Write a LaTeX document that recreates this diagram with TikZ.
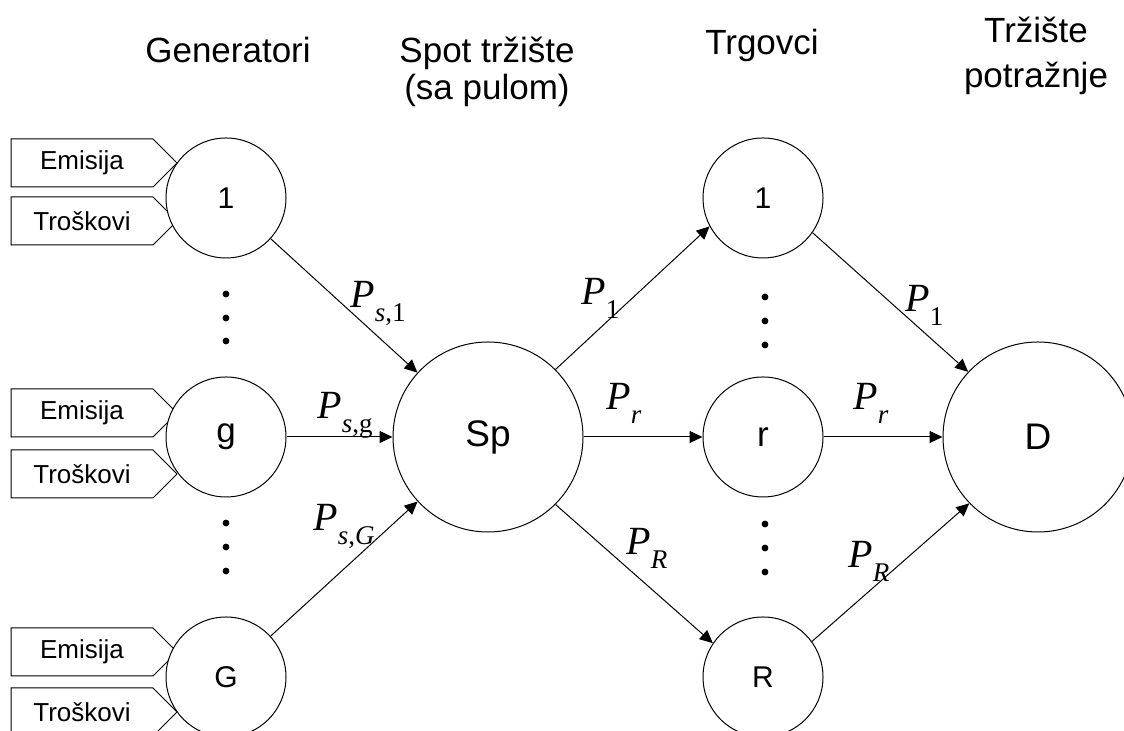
\documentclass[tikz,border=0pt]{standalone}
\usepackage{fontspec}
\setmainfont{Liberation Sans}
\newfontfamily\timesP{Liberation Serif}
\usetikzlibrary{arrows.meta, shapes.symbols}

% price label: italic P with a lowered index
\newcommand\price[1]{\textit{P}\raisebox{-7pt}{\fontsize{13.5}{13.5}\selectfont #1}}

\begin{document}
\begin{tikzpicture}[x=0.5pt, y=0.5pt,
				unit/.style={circle, draw, fill=white, line width=0.5pt, minimum size=60pt, inner sep=0pt, font=\fontsize{15}{18}\selectfont},
				small/.style={font=\fontsize{17.5}{20}\selectfont},
				pool/.style={unit, minimum size=95pt, font=\fontsize{18.5}{21}\selectfont},
				input/.style={signal, signal to=east, signal pointer angle=90, draw, fill=white, line width=0.5pt,
					minimum height=24pt, text width=71pt, inner xsep=0pt, align=center, font=\fontsize{13}{15}\selectfont},
				head/.style={font=\fontsize{17.5}{21}\selectfont, align=center, anchor=base},
				price/.style={anchor=base west, inner sep=0pt, font=\timesP\fontsize{20}{24}\selectfont},
				flow/.style={-{Triangle[length=6.5pt, width=6pt]}, line width=0.5pt},
				dot/.style={circle, fill, inner sep=0pt, minimum size=3.4pt}]
				\useasboundingbox (0,0) rectangle (1124,731);
				% headers (base = last line)
				\node[head] (hgen) at (228,668) {Generatori};
				\node[head, font=\fontsize{17.5}{18.5}\selectfont] (hspot) at (487,631) {Spot tržište\\(sa pulom)};
				\node[head] (htrg) at (762,676) {Trgovci};
				\node[head, font=\fontsize{17.5}{22.5}\selectfont] (hdem) at (1036,643) {Tržište\\potražnje};
				% inputs of the generators
				\node[input] (em1) at (82,568) {Emisija};
				\node[input] (tr1) at (82,510) {Troškovi};
				\node[input] (emg) at (82,318) {Emisija};
				\node[input] (trg) at (82,257) {Troškovi};
				\node[input] (emG) at (82,79) {Emisija};
				\node[input] (trG) at (82,19) {Troškovi};
				% generators, pool, traders, demand
				\node[unit] (gen1) at (226,533) {1};
				\node[unit, small] (geng) at (226,294) {g};
				\node[unit] (genG) at (226,54) {G};
				\node[pool] (sp) at (488,294) {Sp};
				\node[unit] (trd1) at (763,533) {1};
				\node[unit, small] (trdr) at (763,294) {r};
				\node[unit] (trdR) at (763,54) {R};
				\node[pool] (dem) at (1038,294) {D};
				\foreach \y in {437,413,390,208,184,160}
					\node[dot] (gdot\y) at (226,\y) {};
				\foreach \y in {434,410,386,207,183,159}
					\node[dot] (tdot\y) at (765,\y) {};
				% flows
				\draw[flow] (gen1) -- (sp);
				\draw[flow] (geng) -- (sp);
				\draw[flow] (genG) -- (sp);
				\draw[flow] (sp.45) -- (trd1.208);
				\draw[flow] (sp) -- (trdr);
				\draw[flow] (sp.-45) -- (trdR.146);
				\draw[flow] (trd1.-35) -- (dem.137);
				\draw[flow] (trdr) -- (dem);
				\draw[flow] (trdR.36) -- (dem.224);
				% prices
				\node[price] (ps1) at (350,423) {\price{\textit{s},1}};
				\node[price] (psg) at (317,312) {\price{\textit{s},g}};
				\node[price] (psG) at (313,200) {\price{\textit{s},\textit{G}}};
				\node[price] (p1a) at (581,426) {\price{1}};
				\node[price] (pra) at (606,321) {\price{\textit{r}}};
				\node[price] (pRa) at (626,176) {\price{\textit{R}}};
				\node[price] (p1b) at (905,419) {\price{1}};
				\node[price] (prb) at (853,321) {\price{\textit{r}}};
				\node[price] (pRb) at (848,163) {\price{\textit{R}}};
			\end{tikzpicture}
\end{document}
